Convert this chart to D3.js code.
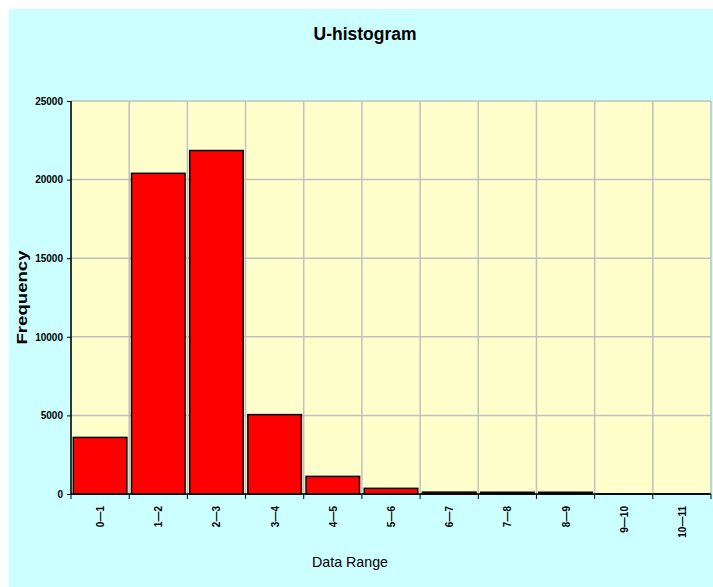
<!DOCTYPE html>
<html>
<head>
<meta charset="utf-8">
<script src="https://cdn.jsdelivr.net/npm/d3@7"></script>
<style>
  body { margin: 0; background: #fff; }
  text { font-family: "Liberation Sans", Arial, sans-serif; }
</style>
</head>
<body>
<div id="chart"></div>
<script>
// histogram counts
const ranges = ["0—1","1—2","2—3","3—4","4—5","5—6","6—7","7—8","8—9","9—10","10—11"]
const counts = [3600, 20400, 21850, 5050, 1120, 360, 120, 110, 110, 15, 10]
const yTicks = [0, 5000, 10000, 15000, 20000, 25000]

const width = 713, height = 587
const m = {left: 71, top: 101, right: 711, bottom: 494}

const svg = d3.select("#chart").append("svg")
  .attr("width", width).attr("height", height)

// cyan chart area, white strip top and left
svg.append("rect").attr("x", 9).attr("y", 9)
  .attr("width", width - 9).attr("height", height - 9)
  .attr("fill", "#ccffff")

const x = d3.scaleBand().domain(ranges).range([m.left, m.right]).paddingInner(0.08).paddingOuter(0.04)
const y = d3.scaleLinear().domain([0, 25000]).range([m.bottom, m.top])

svg.append("rect").attr("x", m.left).attr("y", m.top)
  .attr("width", m.right - m.left).attr("height", m.bottom - m.top)
  .attr("fill", "#ffffcc")

// grid
const step = (m.right - m.left) / ranges.length
const bounds = d3.range(ranges.length + 1).map(i => m.left + i * step)
svg.append("g").selectAll("line").data(yTicks).enter().append("line")
  .attr("x1", m.left).attr("x2", m.right)
  .attr("y1", d => y(d)).attr("y2", d => y(d))
  .attr("stroke", "#c0c0c0").attr("stroke-width", 1.5)
svg.append("g").selectAll("line").data(bounds).enter().append("line")
  .attr("x1", d => d).attr("x2", d => d)
  .attr("y1", m.top).attr("y2", m.bottom)
  .attr("stroke", "#c0c0c0").attr("stroke-width", 1.5)

// bars
svg.append("g").selectAll("rect").data(counts).enter().append("rect")
  .attr("x", (d, i) => x(ranges[i]))
  .attr("y", d => y(d))
  .attr("width", x.bandwidth())
  .attr("height", d => y(0) - y(d))
  .attr("fill", "#ff0000").attr("stroke", "#000").attr("stroke-width", 1.5)

// y axis
const yAxis = svg.append("g").attr("transform", `translate(${m.left},0)`)
  .call(d3.axisLeft(y).tickValues(yTicks).tickSize(4).tickPadding(4).tickFormat(d3.format("d")))
yAxis.select(".domain").attr("stroke", "#000").attr("stroke-width", 1.5).attr("d", `M0,${m.top}V${m.bottom}`)
yAxis.selectAll("text").attr("font-size", 10).attr("font-weight", "bold").attr("fill", "#000")

// x axis, ticks on the bin boundaries
const xb = svg.append("g")
xb.append("line").attr("x1", m.left).attr("x2", m.right)
  .attr("y1", m.bottom).attr("y2", m.bottom).attr("stroke", "#000").attr("stroke-width", 1.5)
xb.selectAll(".tk").data(bounds).enter().append("line")
  .attr("x1", d => d).attr("x2", d => d)
  .attr("y1", m.bottom).attr("y2", m.bottom + 5).attr("stroke", "#000")
xb.selectAll("text").data(ranges).enter().append("text")
  .attr("transform", d => `translate(${x(d) + x.bandwidth() / 2 + 4},${m.bottom + 12}) rotate(-90)`)
  .attr("text-anchor", "end")
  .attr("font-size", 10).attr("font-weight", "bold")
  .text(d => d)

// titles
svg.append("text").attr("x", 365).attr("y", 40).attr("text-anchor", "middle")
  .attr("font-size", 18).attr("font-weight", "bold")
  .attr("textLength", 103).attr("lengthAdjust", "spacingAndGlyphs").text("U-histogram")
svg.append("text").attr("transform", `translate(27,${(m.top + m.bottom) / 2}) rotate(-90)`)
  .attr("text-anchor", "middle").attr("font-size", 15).attr("font-weight", "bold")
  .attr("textLength", 94).attr("lengthAdjust", "spacingAndGlyphs").text("Frequency")
svg.append("text").attr("x", 350).attr("y", 567).attr("text-anchor", "middle")
  .attr("font-size", 15).attr("textLength", 76).attr("lengthAdjust", "spacingAndGlyphs").text("Data Range")
</script>
</body>
</html>
